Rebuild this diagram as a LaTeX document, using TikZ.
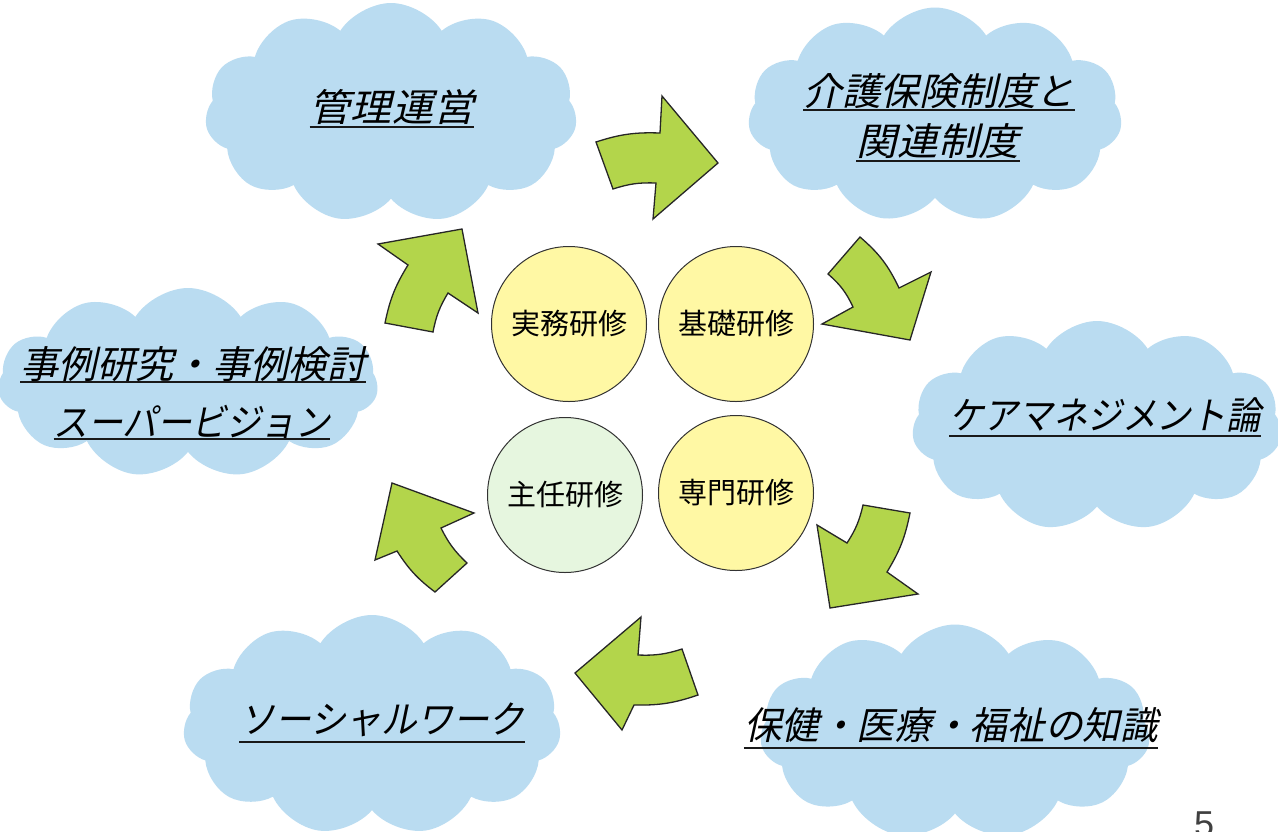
\documentclass[tikz,border=0pt]{standalone}
\usepackage{graphicx}
\usepackage{fontspec}
\newfontfamily\cjkit[FakeSlant=0.22]{Noto Sans CJK JP}
\newfontfamily\cjkup{Noto Sans CJK JP}
\newfontfamily\numfont{Liberation Sans}
\usetikzlibrary{shapes.symbols}
\definecolor{cloudblue}{HTML}{BADCF1}
\definecolor{arrowgreen}{HTML}{B3D54B}
\definecolor{circyellow}{HTML}{FFF8A4}
\definecolor{circgreen}{HTML}{E6F6DF}
\tikzset{
  cloudbox/.style={cloud, cloud puffs=11, cloud puff arc=115, cloud ignores aspect, fill=cloudblue, draw=none, inner sep=0pt},
  cloudtext/.style={font=\cjkit\fontsize{38}{40}\selectfont, inner sep=0pt, anchor=center},
  uline/.style={line width=1.8pt, draw=black!90},
  blockarrow/.style={fill=arrowgreen, draw=black!85, line width=1.3pt, line join=miter},
  circnode/.style={circle, draw=black!80, line width=1pt, minimum size=155pt, inner sep=0pt, font=\cjkup\fontsize{29}{30}\selectfont},
}
\newcommand{\hs}[2]{\scalebox{#1}[1]{#2}}
\begin{document}
\begin{tikzpicture}[x=1pt,y=-1pt]
\fill[white] (0,0) rectangle (1278,831);
\useasboundingbox (0,0) rectangle (1278,831);

% clouds
\node[cloudbox, minimum width=372pt, minimum height=220pt] (c1) at (391,113) {};
\node[cloudbox, minimum width=374pt, minimum height=215pt] (c2) at (935,115) {};
\node[cloudbox, minimum width=370pt, minimum height=210pt] (c3) at (1097,426) {};
\node[cloudbox, minimum width=390pt, minimum height=215pt] (c4) at (955,732) {};
\node[cloudbox, minimum width=378pt, minimum height=220pt] (c5) at (372,725) {};
\node[cloudbox, minimum width=380pt, minimum height=190pt] (c6) at (188,383) {};

% cloud texts
\node[cloudtext] (t1) at (392,107) {\hs{1.08}{管理運営}};
\node[cloudtext] (t2a) at (939,91) {\hs{1.02}{介護保険制度と}};
\node[cloudtext] (t2b) at (938,141) {\hs{1.07}{関連制度}};
\node[cloudtext] (t3) at (1105,415) {\hs{0.91}{ケアマネジメント論}};
\node[cloudtext] (t4) at (951,725) {\hs{0.99}{保健・医療・福祉の知識}};
\node[cloudtext] (t5) at (382,720) {\hs{0.94}{ソーシャルワーク}};
\node[cloudtext] (t6a) at (193,364) {\hs{1.01}{事例研究・事例検討}};
\node[cloudtext] (t6b) at (192,422) {\hs{0.91}{スーパービジョン}};

% underlines
\foreach \t/\yy in {t1/127,t2a/110,t2b/161,t3/436,t4/748,t5/742,t6a/382,t6b/439}{
  \draw[uline] (\t.west |- 0,\yy) -- (\t.east |- 0,\yy);
}

% circles
\node[circnode, fill=circyellow] (s1) at (569,324) {実務研修};
\node[circnode, fill=circyellow] (s2) at (736,324) {基礎研修};
\node[circnode, fill=circgreen] (s3) at (565,495) {主任研修};
\node[circnode, fill=circyellow] (s4) at (736,493) {専門研修};

% block arrows (clockwise)
\draw[blockarrow] (596,142) to[bend left=10] (660,133) -- (662,96) -- (718,163) -- (653,219) -- (656,183) to[bend right=10] (613,189) -- cycle;
\draw[blockarrow] (860,237) to[bend left=12] (899,288) -- (931,272) -- (910,340) -- (822,324) -- (853,307) to[bend right=12] (828,274) -- cycle;
\draw[blockarrow] (910,513) to[bend left=10] (887,572) -- (918,594) -- (830,608) -- (817,525) -- (847,543) to[bend right=10] (863,505) -- cycle;
\draw[blockarrow] (698,695) to[bend left=10] (634,705) -- (622,730) -- (575,673) -- (641,617) -- (638,655) to[bend right=10] (682,649) -- cycle;
\draw[blockarrow] (435,592) to[bend left=10] (397,551) -- (375,560) -- (392,483) -- (474,513) -- (441,528) to[bend right=10] (467,563) -- cycle;
\draw[blockarrow] (385,323) to[bend left=10] (408,265) -- (378,244) -- (462,229) -- (478,313) -- (448,293) to[bend right=10] (433,332) -- cycle;

% page number
\node[font=\numfont\fontsize{36}{36}\selectfont, text=black!75, anchor=north, inner sep=0pt] (pg) at (1204,812) {5};
\end{tikzpicture}
\end{document}
